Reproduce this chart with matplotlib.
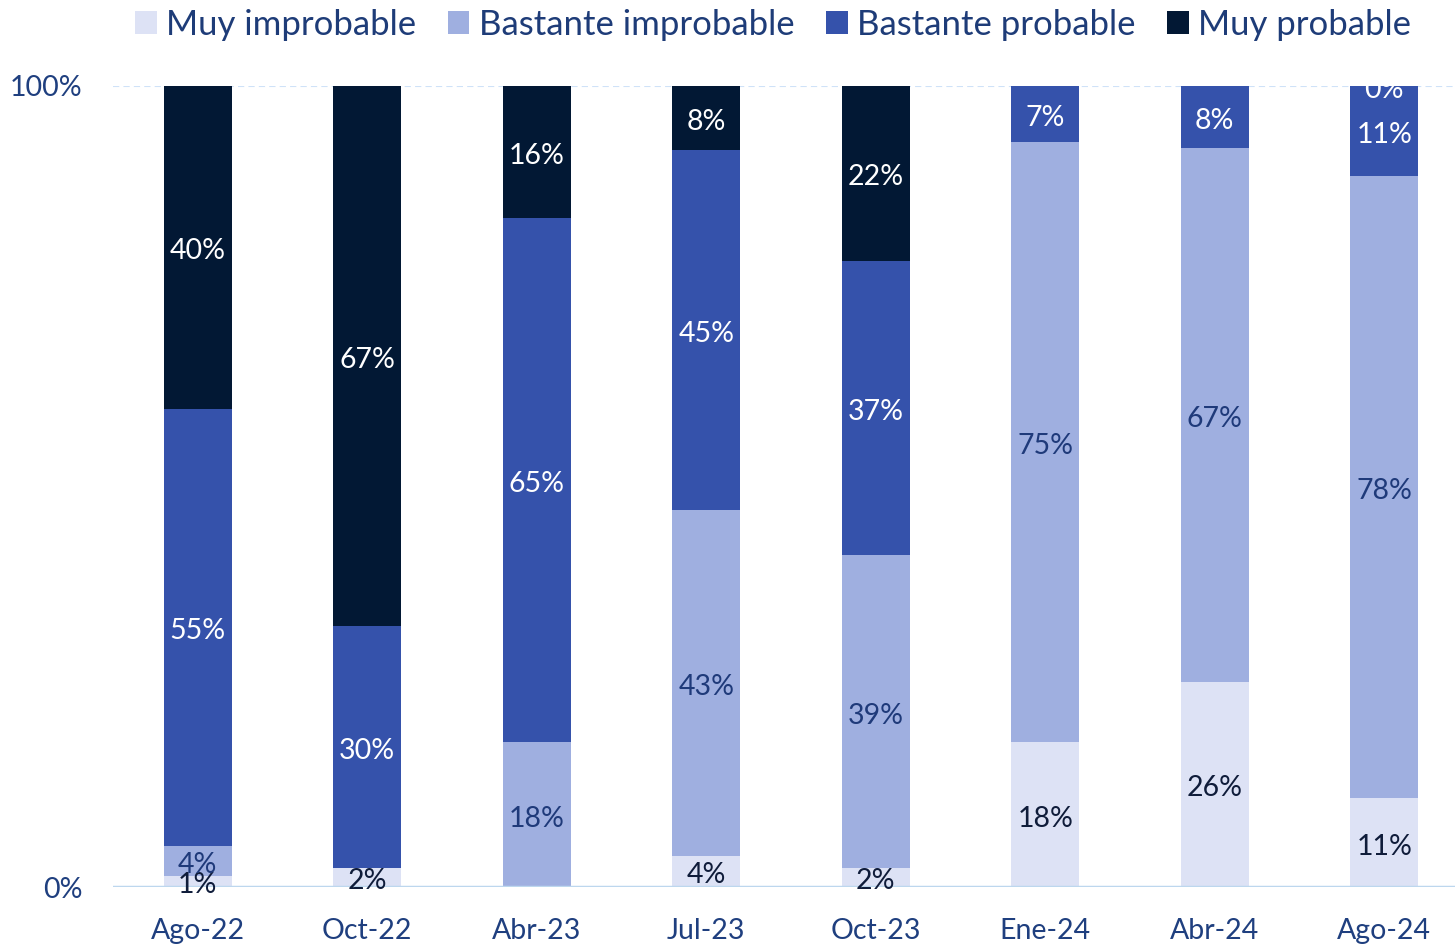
import matplotlib
matplotlib.use("Agg")
import matplotlib.pyplot as plt
import matplotlib.transforms as mtransforms
import numpy as np

categories = ["Ago-22", "Oct-22", "Abr-23", "Jul-23", "Oct-23", "Ene-24", "Abr-24", "Ago-24"]
series_names = ["Muy improbable", "Bastante improbable", "Bastante probable", "Muy probable"]
# None = empty cell (no bar, no label)
muy_improbable = [1.4, 2.4, None, 3.9, 2.4, 18.1, 25.6, 11.1]
bastante_improbable = [3.7, None, 18.1, 43.2, 39.0, 74.9, 66.7, 77.7]
bastante_probable = [54.6, 30.2, 65.4, 44.9, 36.7, 7.0, 7.7, 11.2]
muy_probable = [40.3, 67.4, 16.5, 8.0, 22.0, None, None, 0.0]

colors = ["#DDE2F5", "#9FAFE0", "#3552AB", "#021834"]
label_colors = ["#0F1C3A", "#1F3A7A", "#FFFFFF", "#FFFFFF"]
tick_color = "#1F3F7F"

plt.rcParams['font.family'] = ['Lato', 'DejaVu Sans']

fig = plt.figure(figsize=(14.55, 9.44), dpi=100)
ax = fig.add_axes([113/1455, 1-887/944, (1469-113)/1455, (887-86)/944])

x = np.arange(len(categories))
data = [muy_improbable, bastante_improbable, bastante_probable, muy_probable]
bottom = np.zeros(len(categories))
width = 0.40
offset = mtransforms.ScaledTranslation(0, -4/100, fig.dpi_scale_trans)
# clip labels only at the top of the plot area
clip_box = mtransforms.TransformedBbox(mtransforms.Bbox([[-0.2, -0.5], [1.2, 1.0]]), ax.transAxes)
for vals, name, c, lc in zip(data, series_names, colors, label_colors):
    present = [v is not None for v in vals]
    vals = np.array([0.0 if v is None else v for v in vals])
    ax.bar(x, vals, width, bottom=bottom, color=c, label=name, zorder=2)
    for xi, v, b, p in zip(x, vals, bottom, present):
        if p:
            t = ax.text(xi, b + v/2, f"{round(v)}%", ha='center', va='center',
                        color=lc, fontsize=20.5, zorder=5,
                        transform=ax.transData + offset)
            t.set_clip_box(clip_box)
            t.set_clip_on(True)
    bottom += vals

ax.set_xlim(-0.5, len(categories) - 0.5)
ax.set_ylim(0, 100)
ax.set_yticks([0, 100])
ax.set_yticklabels(["0%", "100%"])
ax.set_xticks(x)
ax.set_xticklabels(categories)
ax.tick_params(axis='both', length=0, colors=tick_color, labelsize=20.5)
ax.tick_params(axis='x', pad=22)
ax.tick_params(axis='y', pad=22)
for s in ax.spines.values():
    s.set_visible(False)
ax.axhline(100, color="#CFE2F8", linestyle=(0, (3, 2)), linewidth=1.5, zorder=1)
ax.axhline(0, color="#BDD7EE", linewidth=2.5, zorder=4)

leg = ax.legend(loc='upper center', bbox_to_anchor=(773/1455, 1 - 9/944), bbox_transform=fig.transFigure,
                ncol=4, frameon=False, fontsize=25, handlelength=0.63, handleheight=0.63,
                handletextpad=0.26, columnspacing=0.92, borderaxespad=0.0, borderpad=0.0)
for t in leg.get_texts():
    t.set_color("#1E3C78")

fig.savefig("out.png", dpi=100)
